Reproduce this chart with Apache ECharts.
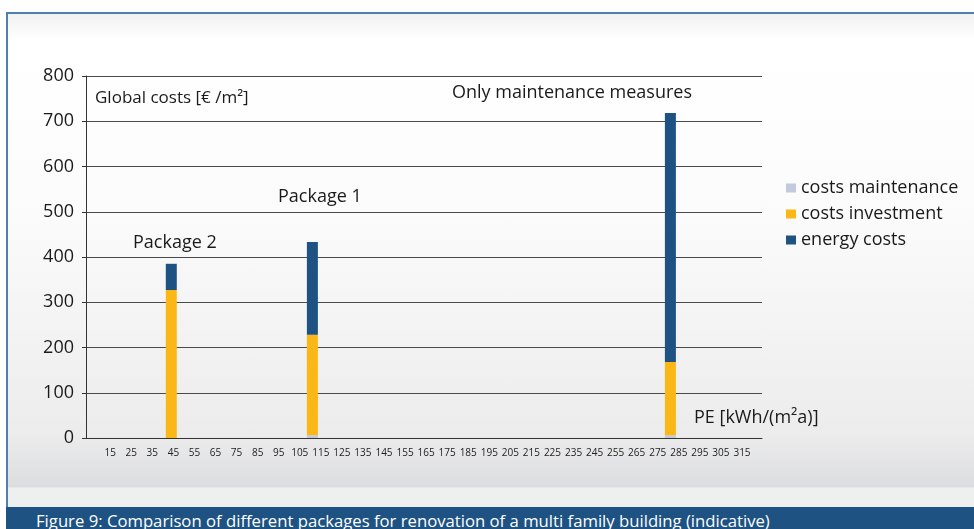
<!DOCTYPE html>
<html>
<head>
<meta charset="utf-8">
<title>Figure 9</title>
<style>
  body { margin: 0; background: #fff; font-family: "Open Sans", sans-serif; }
  #frame {
    position: absolute; left: 6px; top: 12px; width: 968px; height: 495px;
    border-top: 2px solid #4f7fad; border-left: 2px solid #4f7fad; box-sizing: border-box;
    background: linear-gradient(to bottom, #f1f1f1 0px, #ffffff 26px, #fbfbfb 200px, #ececed 420px, #dcdddf 473px, #eeefef 474px, #eeefef 495px);
  }
  #caption {
    position: absolute; left: 6px; top: 507px; width: 968px; height: 22px;
    background: #1d5283; color: #fff; font-size: 16.7px; line-height: 27px;
    padding-left: 30px; box-sizing: border-box; white-space: nowrap; overflow: hidden;
  }
  #container { position: absolute; left: 0; top: 0; width: 974px; height: 507px; }
</style>
</head>
<body>
<div id="frame"></div>
<div id="container"></div>
<div id="caption">Figure 9: Comparison of different packages for renovation of a multi family building (indicative)</div>
<script src="https://cdn.jsdelivr.net/npm/echarts@6/dist/echarts.min.js"></script>
<script>
    // PE values (kWh/(m2a)) of the three variants and their costs (EUR/m2)
    var pe = [44, 111, 281];
    var maintenance = [0, 6, 6];
    var investment = [327, 222, 162];
    var energy = [58, 205, 550];
    var peLabels = [15, 25, 35, 45, 55, 65, 75, 85, 95, 105, 115, 125, 135, 145, 155, 165, 175, 185, 195, 205,
                    215, 225, 235, 245, 255, 265, 275, 285, 295, 305, 315];
    var peMin = 4, peMax = 324;

    // one category per kWh so the bars sit where the PE value is
    var categories = [];
    for (var c = peMin; c <= peMax; c++) categories.push(String(c));

    function spread(vals) {
        var out = categories.map(function () { return null; });
        vals.forEach(function (v, i) { out[pe[i] - peMin] = v; });
        return out;
    }

    var font = '"Open Sans", sans-serif';
    var myChart = echarts.init(document.getElementById('container'));
    var option = {
        backgroundColor: 'transparent',
        animation: false,
        textStyle: { fontFamily: font },
        grid: { left: 86, top: 76, width: 676, height: 362 },
        legend: {
            orient: 'vertical',
            left: 781,
            top: 174,
            icon: 'rect',
            itemWidth: 10,
            itemHeight: 9,
            itemGap: 8,
            textStyle: { fontSize: 18, color: '#1a1a1a', fontFamily: font },
            data: ['costs maintenance', 'costs investment', 'energy costs']
        },
        xAxis: {
            type: 'category',
            data: categories,
            axisTick: { show: false },
            axisLine: { show: true, lineStyle: { color: '#333', width: 1 } },
            axisLabel: {
                interval: function (index, value) { return peLabels.indexOf(+value) >= 0; },
                hideOverlap: false,
                fontSize: 10,
                color: '#222',
                margin: 10
            }
        },
        yAxis: {
            type: 'value',
            min: 0,
            max: 800,
            interval: 100,
            axisLine: { show: true, lineStyle: { color: '#333', width: 1 } },
            axisTick: { show: true, length: 4, lineStyle: { color: '#333' } },
            axisLabel: { fontSize: 18, color: '#1a1a1a', margin: 12 },
            splitLine: { lineStyle: { color: '#4a4a4a', width: 1 } }
        },
        graphic: [
            { type: 'text', style: { text: 'Global costs [€ /m²]', x: 95, y: 98, font: '17px ' + font, fill: '#1a1a1a', verticalAlign: 'middle' } },
            { type: 'text', style: { text: 'Only maintenance measures', x: 452, y: 93, font: '18px ' + font, fill: '#1a1a1a', verticalAlign: 'middle' } },
            { type: 'text', style: { text: 'Package 1', x: 278, y: 197, font: '18px ' + font, fill: '#1a1a1a', verticalAlign: 'middle' } },
            { type: 'text', style: { text: 'Package 2', x: 133, y: 243, font: '18px ' + font, fill: '#1a1a1a', verticalAlign: 'middle' } },
            { type: 'text', style: { text: 'PE [kWh/(m²a)]', x: 694, y: 418, font: '18px ' + font, fill: '#1a1a1a', verticalAlign: 'middle' } }
        ],
        series: [
            {
                name: 'costs maintenance',
                type: 'bar',
                stack: 'cost',
                barWidth: 11,
                itemStyle: { color: '#c3cadd' },
                data: spread(maintenance)
            },
            {
                name: 'costs investment',
                type: 'bar',
                stack: 'cost',
                barWidth: 11,
                itemStyle: { color: '#fbb716' },
                data: spread(investment)
            },
            {
                name: 'energy costs',
                type: 'bar',
                stack: 'cost',
                barWidth: 11,
                itemStyle: { color: '#1d5283' },
                data: spread(energy)
            }
        ]
    };
    myChart.setOption(option);
</script>
</body>
</html>
